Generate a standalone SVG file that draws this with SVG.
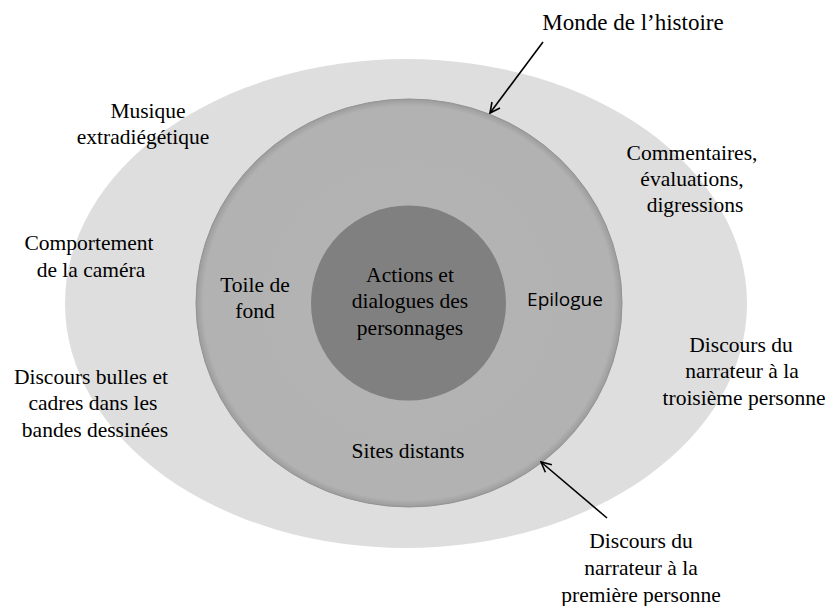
<svg xmlns="http://www.w3.org/2000/svg" width="828" height="606" viewBox="0 0 828 606">
<style>
.t{font-family:'Liberation Serif','Times New Roman','DejaVu Serif',serif;font-size:21.5px;fill:#000;text-anchor:middle}
.s{font-family:'Open Sans','Liberation Sans',sans-serif;font-size:19px;fill:#000;text-anchor:middle}
.conn{stroke:#000;stroke-width:1.6;fill:none}
</style>
<defs>
<radialGradient id="midGrad" cx="0.5" cy="0.5" r="0.5">
<stop offset="0" stop-color="#b4b4b4"/>
<stop offset="0.965" stop-color="#b2b2b2"/>
<stop offset="1" stop-color="#9c9c9c"/>
</radialGradient>
<marker id="arrow" viewBox="0 0 12 12" refX="11" refY="6" markerWidth="12" markerHeight="12" markerUnits="userSpaceOnUse" orient="auto">
<path d="M1,1 L11,6 L1,11" fill="none" stroke="#000" stroke-width="1.6"/>
</marker>
</defs>
<rect width="828" height="606" fill="#fff"/>
<g id="outer">
<ellipse cx="406" cy="303.5" rx="341" ry="244.5" fill="#dedede"/>
</g>
<g id="middle">
<ellipse cx="409" cy="303" rx="213" ry="204" fill="url(#midGrad)" stroke="#939393" stroke-width="1"/>
</g>
<g id="inner">
<circle cx="408.5" cy="303" r="97.5" fill="#808080"/>
</g>
<g id="connectors">
<line class="conn" x1="543" y1="42" x2="490" y2="113" marker-end="url(#arrow)"/>
<line class="conn" x1="607" y1="518" x2="541" y2="462" marker-end="url(#arrow)"/>
</g>
<g font-family="'Liberation Serif', 'Times New Roman', serif">
<g id="label-monde"><text class="t" x="633" y="30" style="font-size:23px">Monde de l’histoire</text></g>
<g id="label-musique"><text class="t" x="148" y="118">Musique</text><text class="t" x="143" y="144">extradiégétique</text></g>
<g id="label-commentaires"><text class="t" x="692" y="160">Commentaires,</text><text class="t" x="692" y="186">évaluations,</text><text class="t" x="695" y="212">digressions</text></g>
<g id="label-camera"><text class="t" x="89" y="250">Comportement</text><text class="t" x="91" y="277">de la caméra</text></g>
<g id="label-toile"><text class="t" x="255" y="292">Toile de</text><text class="t" x="255" y="318">fond</text></g>
<g id="label-actions"><text class="t" x="410" y="282">Actions et</text><text class="t" x="410" y="308">dialogues des</text><text class="t" x="410" y="335">personnages</text></g>
<g id="label-troisieme"><text class="t" x="741" y="352">Discours du</text><text class="t" x="742" y="378">narrateur à la</text><text class="t" x="744" y="405">troisième personne</text></g>
<g id="label-bulles"><text class="t" x="91" y="384">Discours bulles et</text><text class="t" x="93" y="410">cadres dans les</text><text class="t" x="95" y="437">bandes dessinées</text></g>
<g id="label-sites"><text class="t" x="408" y="458">Sites distants</text></g>
<g id="label-premiere"><text class="t" x="641" y="548">Discours du</text><text class="t" x="641" y="575">narrateur à la</text><text class="t" x="641" y="602">première personne</text></g>
</g>
<g id="label-epilogue"><text class="s" x="565" y="306">Epilogue</text></g>
</svg>
